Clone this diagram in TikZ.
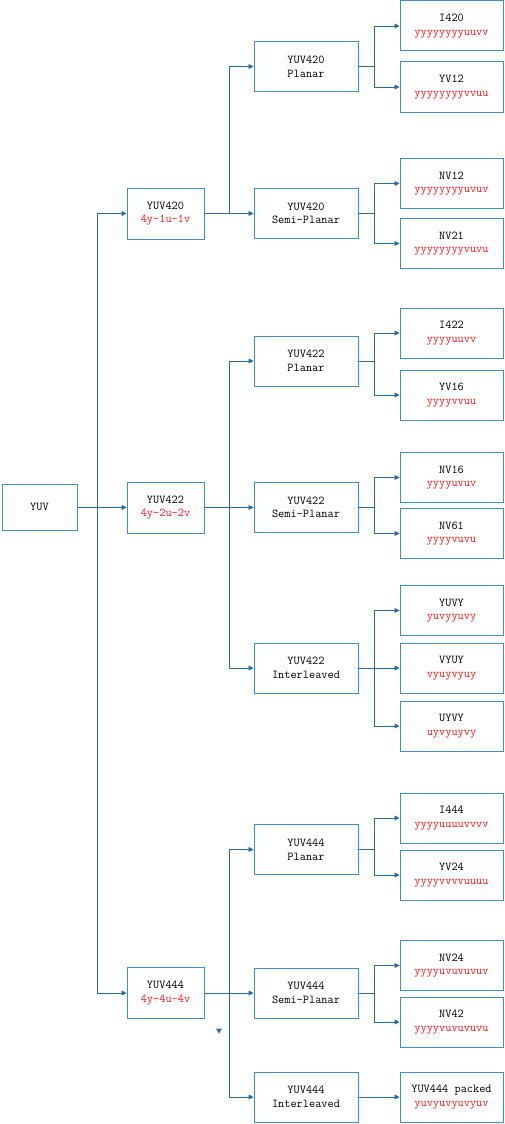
\documentclass[tikz,border=0pt]{standalone}
\usetikzlibrary{arrows.meta}
\definecolor{boxblue}{RGB}{62,145,205}
\definecolor{lineblue}{RGB}{40,108,165}
\definecolor{txtred}{RGB}{255,20,20}
\begin{document}
\begin{tikzpicture}[x=1pt,y=-1pt,
  base/.style={draw=boxblue,line width=1pt,fill=white,inner sep=0pt,align=center,
    font=\ttfamily\fontsize{12}{13.6}\selectfont},
  root/.style={base,minimum width=75pt,minimum height=46pt},
  lone/.style={base,minimum width=77pt,minimum height=51pt},
  ltwo/.style={base,minimum width=104pt,minimum height=50pt},
  lthree/.style={base,minimum width=103pt,minimum height=50pt},
  conn/.style={draw=lineblue,line width=0.9pt},
  arr/.style={conn,-{Triangle[length=5pt,width=5pt]}}]
\useasboundingbox (0,0) rectangle (504,1124);
% root
\node[root] (yuv) at (39.5,507) {YUV};
% level 1
\node[lone] (a) at (165.5,213.5) {YUV420\\\textcolor{txtred}{4y-1u-1v}};
\node[lone] (b) at (165.5,507.5) {YUV422\\\textcolor{txtred}{4y-2u-2v}};
\node[lone] (c) at (165.5,993) {YUV444\\\textcolor{txtred}{4y-4u-4v}};
% level 2
\node[ltwo] (ap) at (306,66.5) {YUV420\\Planar};
\node[ltwo] (as) at (306,213.5) {YUV420\\Semi-Planar};
\node[ltwo] (bp) at (306,361) {YUV422\\Planar};
\node[ltwo] (bs) at (306,507.5) {YUV422\\Semi-Planar};
\node[ltwo] (bi) at (306,668) {YUV422\\Interleaved};
\node[ltwo] (cp) at (306,849.5) {YUV444\\Planar};
\node[ltwo] (cs) at (306,993) {YUV444\\Semi-Planar};
\node[ltwo] (ci) at (306,1097) {YUV444\\Interleaved};
% level 3
\node[lthree] (i420) at (451.5,26) {I420\\\textcolor{txtred}{yyyyyyyyuuvv}};
\node[lthree] (yv12) at (451.5,87) {YV12\\\textcolor{txtred}{yyyyyyyyvvuu}};
\node[lthree] (nv12) at (451.5,183.5) {NV12\\\textcolor{txtred}{yyyyyyyyuvuv}};
\node[lthree] (nv21) at (451.5,243.5) {NV21\\\textcolor{txtred}{yyyyyyyyvuvu}};
\node[lthree] (i422) at (451.5,333) {I422\\\textcolor{txtred}{yyyyuuvv}};
\node[lthree] (yv16) at (451.5,395) {YV16\\\textcolor{txtred}{yyyyvvuu}};
\node[lthree] (nv16) at (451.5,477.5) {NV16\\\textcolor{txtred}{yyyyuvuv}};
\node[lthree] (nv61) at (451.5,533.5) {NV61\\\textcolor{txtred}{yyyyvuvu}};
\node[lthree] (yuvy) at (451.5,610.5) {YUVY\\\textcolor{txtred}{yuvyyuvy}};
\node[lthree] (vyuy) at (451.5,668) {VYUY\\\textcolor{txtred}{vyuyvyuy}};
\node[lthree] (uyvy) at (451.5,726) {UYVY\\\textcolor{txtred}{uyvyuyvy}};
\node[lthree] (i444) at (451.5,818) {I444\\\textcolor{txtred}{yyyyuuuuvvvv}};
\node[lthree] (yv24) at (451.5,875) {YV24\\\textcolor{txtred}{yyyyvvvvuuuu}};
\node[lthree] (nv24) at (451.5,965.5) {NV24\\\textcolor{txtred}{yyyyuvuvuvuv}};
\node[lthree] (nv42) at (451.5,1022) {NV42\\\textcolor{txtred}{yyyyvuvuvuvu}};
\node[lthree] (pk) at (451.5,1097) {YUV444 packed\\\textcolor{txtred}{yuvyuvyuvyuv}};
% junctions
\coordinate (j0) at (97,507);
\coordinate (ja) at (229,213.5);
\coordinate (jb) at (229,507.5);
\coordinate (jc) at (229,993);
\coordinate (jap) at (374,66.5);
\coordinate (jas) at (374,213.5);
\coordinate (jbp) at (374,361);
\coordinate (jbs) at (374,507.5);
\coordinate (jbi) at (374,668);
\coordinate (jcp) at (374,849.5);
\coordinate (jcs) at (374,993);
% root to level 1
\draw[conn] (yuv.east) -- (j0);
\foreach \t in {a,b,c} \draw[arr] (j0) |- (\t.west);
% level 1 to level 2
\draw[conn] (a.east) -- (ja);
\foreach \t in {ap,as} \draw[arr] (ja) |- (\t.west);
\draw[conn] (b.east) -- (jb);
\foreach \t in {bp,bs,bi} \draw[arr] (jb) |- (\t.west);
\draw[conn] (c.east) -- (jc);
\foreach \t in {cp,cs,ci} \draw[arr] (jc) |- (\t.west);
% level 2 to level 3
\draw[conn] (ap.east) -- (jap);
\foreach \t in {i420,yv12} \draw[arr] (jap) |- (\t.west);
\draw[conn] (as.east) -- (jas);
\foreach \t in {nv12,nv21} \draw[arr] (jas) |- (\t.west);
\draw[conn] (bp.east) -- (jbp);
\foreach \t in {i422,yv16} \draw[arr] (jbp) |- (\t.west);
\draw[conn] (bs.east) -- (jbs);
\foreach \t in {nv16,nv61} \draw[arr] (jbs) |- (\t.west);
\draw[conn] (bi.east) -- (jbi);
\foreach \t in {yuvy,vyuy,uyvy} \draw[arr] (jbi) |- (\t.west);
\draw[conn] (cp.east) -- (jcp);
\foreach \t in {i444,yv24} \draw[arr] (jcp) |- (\t.west);
\draw[conn] (cs.east) -- (jcs);
\foreach \t in {nv24,nv42} \draw[arr] (jcs) |- (\t.west);
\draw[arr] (ci.east) -- (pk.west);
% stray arrowhead mark
\fill[lineblue] (216,1028.5) -- (222,1028.5) -- (219,1033.5) -- cycle;
\end{tikzpicture}
\end{document}
